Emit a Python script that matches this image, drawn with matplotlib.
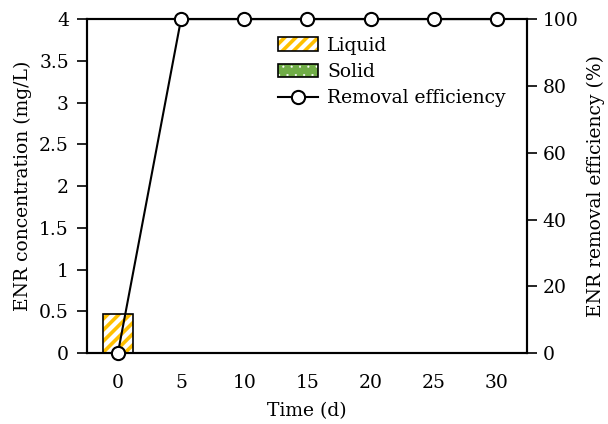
import matplotlib
matplotlib.use("Agg")
import matplotlib.pyplot as plt
from matplotlib.patches import Patch
from matplotlib.lines import Line2D
from matplotlib.legend_handler import HandlerTuple
from matplotlib.ticker import FuncFormatter

plt.rcParams["font.family"] = ["DejaVu Serif"]
plt.rcParams["font.size"] = 13.5

# data
days = [0, 5, 10, 15, 20, 25, 30]
liquid_conc = [0.47]
solid_conc = [0.0]
bar_days = [0]
removal_eff = [0, 100, 100, 100, 100, 100, 100]

yellow = "#FFC000"
green = "#70AD47"


def hatched(p, lw):
    # per-patch hatch line width
    if hasattr(p, "set_hatch_linewidth"):
        p.set_hatch_linewidth(lw)
    return p


fig, ax = plt.subplots(figsize=(6.08, 4.24), dpi=100)
fig.subplots_adjust(left=0.143, right=0.867, top=0.955, bottom=0.167)

bar_w = 2.4
for b in ax.bar(bar_days, liquid_conc, width=bar_w, color="white", edgecolor=yellow,
                hatch="///", linewidth=0, zorder=2):
    hatched(b, 2.6)
ax.bar(bar_days, liquid_conc, width=bar_w, fill=False, edgecolor="black",
       linewidth=1.2, zorder=3)
for b in ax.bar(bar_days, solid_conc, width=bar_w, color=green, edgecolor="white",
                hatch="..", linewidth=0, zorder=2):
    hatched(b, 0.3)

ax.set_xlim(-2.45, 32.4)
ax.set_ylim(0, 4)
ax.set_xticks(days)
ax.set_yticks([0, 0.5, 1, 1.5, 2, 2.5, 3, 3.5, 4])
ax.yaxis.set_major_formatter(FuncFormatter(lambda v, p: f"{v:g}"))
ax.set_xlabel("Time (d)", labelpad=7)
ax.set_ylabel("ENR concentration (mg/L)", labelpad=5)
ax.tick_params(axis="x", length=0, pad=15)
ax.tick_params(axis="y", direction="out", length=7, width=1.2, pad=6)
for s in ax.spines.values():
    s.set_linewidth(1.5)

ax2 = ax.twinx()
ax2.plot(days, removal_eff, color="black", linewidth=1.5, marker="o",
         markersize=9.5, markerfacecolor="white", markeredgecolor="black",
         markeredgewidth=1.5, clip_on=False, zorder=5)
ax2.set_ylim(0, 100)
ax2.set_yticks([0, 20, 40, 60, 80, 100])
ax2.set_ylabel("ENR removal efficiency (%)", labelpad=6)
ax2.tick_params(axis="y", direction="out", length=7, width=1.2, pad=4)
for s in ax2.spines.values():
    s.set_linewidth(1.5)

liq_h = (Patch(facecolor="white", edgecolor=yellow, hatch="///", linewidth=0),
         Patch(fill=False, edgecolor="black", linewidth=1.2))
sol_h = (Patch(facecolor=green, edgecolor="white", hatch="..", linewidth=0),
         Patch(fill=False, edgecolor="black", linewidth=1.2))
line_h = Line2D([], [], color="black", linewidth=1.5, marker="o", markersize=9.5,
                markerfacecolor="white", markeredgewidth=1.5)
leg = ax2.legend([liq_h, sol_h, line_h], ["Liquid", "Solid", "Removal efficiency"],
                 handler_map={tuple: HandlerTuple(ndivide=1)},
                 loc="upper left", bbox_to_anchor=(0.418, 0.97), frameon=False,
                 handlelength=2.1, handleheight=0.7, handletextpad=0.5,
                 labelspacing=0.45, borderaxespad=0, fontsize=13.5)
# legend makes copies of the patches, so fix hatch widths on those
for p in leg.findobj(Patch):
    if p.get_hatch() == "///":
        hatched(p, 2.6)
    elif p.get_hatch() == "..":
        hatched(p, 0.3)

fig.savefig("out.png", dpi=100)
